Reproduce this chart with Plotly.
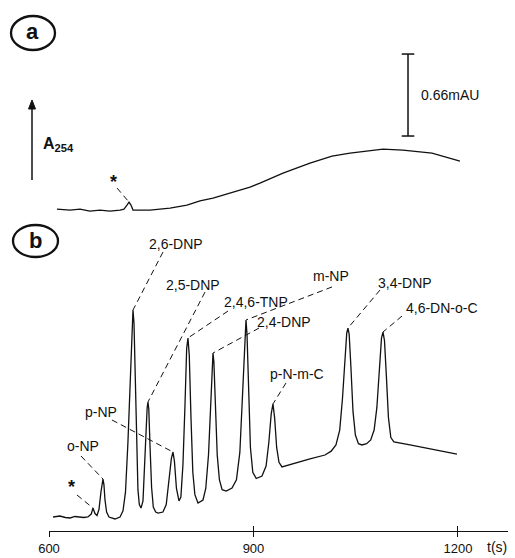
import plotly.graph_objects as go

# Electropherogram (b): nitrophenol standard mixture, A254 in mAU vs migration time (s)
b_time = [606, 616, 624, 631, 638, 645, 651, 657, 662, 664.5, 667.5, 670.4,
          673.3, 676.2, 677.7, 679.2, 680.6, 682.1, 684.5, 688.0, 696.8, 704.2, 708.6,
          712.2, 715.8, 718.8, 721.7, 723.2, 724.7, 726.5, 728.6, 730.5, 732.5, 735.0,
          737.9, 740.0, 742.2, 744.0, 745.2, 746.4, 748.3, 750.5, 753.0, 756.5, 759.9,
          767.2, 772.0, 776.5, 779.5, 781.9, 784.0, 787.0, 790.7, 793.5, 796.5,
          799.5, 802.0, 803.9, 805.8, 808.3, 811.0, 814.0, 818.6, 825.9, 830.0,
          834.0, 837.5, 839.3, 840.6, 841.9, 844.0, 846.8, 850.0, 854.0, 860.0,
          868.5, 875.0, 880.0, 884.5, 887.5, 889.0, 890.5, 892.7, 895.5, 899.0,
          904.0, 912.5, 918.5, 922.5, 926.0, 928.6, 931.0, 934.0, 937.4, 941.8,
          960.9, 982.9, 1004.9, 1014.0, 1021.0, 1026.5, 1030.5, 1034.0, 1036.8,
          1038.6, 1040.4, 1043.0, 1046.0, 1049.5, 1054.0, 1059.2, 1066.0, 1072.0,
          1077.0, 1081.0, 1084.5, 1087.8, 1090.0, 1092.2, 1095.0, 1098.0, 1101.5,
          1106.0, 1129.6, 1158.9, 1198.5]
b_abs = [0.000, 0.008, -0.004, -0.008, 0.004, 0.000, -0.004, 0.000, 0.024, 0.072, 0.028, 0.012,
         0.060, 0.200, 0.280, 0.306, 0.260, 0.140, 0.040, 0.000, -0.016, 0.000, 0.050,
         0.200, 0.600, 1.103, 1.550, 1.666, 1.560, 1.150, 0.560, 0.220, 0.100, 0.072,
         0.130, 0.380, 0.720, 0.880, 0.926, 0.870, 0.560, 0.240, 0.080, 0.040, 0.032,
         0.040, 0.100, 0.300, 0.470, 0.523, 0.450, 0.230, 0.129, 0.160, 0.420,
         0.900, 1.360, 1.441, 1.300, 0.800, 0.360, 0.180, 0.113, 0.137, 0.230,
         0.500, 0.980, 1.260, 1.320, 1.250, 0.930, 0.500, 0.300, 0.220, 0.209,
         0.233, 0.300, 0.520, 1.050, 1.480, 1.586, 1.470, 1.020, 0.560, 0.360,
         0.310, 0.330, 0.410, 0.600, 0.830, 0.910, 0.800, 0.560, 0.440, 0.403,
         0.435, 0.467, 0.499, 0.530, 0.580, 0.700, 0.950, 1.280, 1.480,
         1.521, 1.470, 1.200, 0.850, 0.660, 0.590, 0.580, 0.590, 0.620,
         0.700, 0.880, 1.180, 1.440, 1.489, 1.420, 1.130, 0.800, 0.640,
         0.604, 0.580, 0.547, 0.507]

# Electropherogram (a): blank run
a_time = [611.7, 630.8, 645.5, 660.1, 674.8, 689.5, 704.2, 710.0, 714.4, 717.4,
          720.3, 723.2, 733.5, 748.2, 762.8, 777.5, 802.4, 821.5, 840.6, 869.9,
          894.9, 909.5, 943.3, 982.9, 1015.2, 1041.6, 1066.5, 1090.0, 1119.3,
          1161.9, 1202.9]
a_abs = [0.000, -0.008, 0.000, -0.016, -0.008, -0.016, -0.008, 0.000, 0.032, 0.056,
         0.032, -0.008, -0.008, -0.008, 0.000, 0.008, 0.032, 0.065, 0.089, 0.137,
         0.177, 0.209, 0.290, 0.370, 0.427, 0.451, 0.467, 0.483, 0.475,
         0.451, 0.386]
a_offset = 2.479          # trace (a) is drawn above trace (b)

# Peak identification for (b)
peak_names = ["o-NP", "p-NP", "2,6-DNP", "2,5-DNP", "2,4,6-TNP", "2,4-DNP",
              "m-NP", "p-N-m-C", "3,4-DNP", "4,6-DN-o-C"]
peak_times = [679.2, 781.9, 723.2, 745.2, 803.9, 840.6, 889.0, 928.6, 1038.6, 1090.0]
label_t = [649.9, 676.3, 786.3, 811.2, 903.7, 944.7, 1013.7, 963.8, 1122.3, 1176.5]
label_y = [0.572, 0.845, 2.198, 1.868, 1.731, 1.570, 1.940, 1.151, 1.884, 1.682]
leader_t = [646.9, 692.4, 767.2, 828.9, 862.6, 908.1, 1015.2, 947.7, 1085.6, 1117.9]
leader_y = [0.491, 0.781, 2.133, 1.811, 1.658, 1.521, 1.852, 1.079, 1.827, 1.618]

# System peaks marked with an asterisk: (time, label t, label y, leader start t, y)
star_b = (664.5, 633.7, 0.242, 641.1, 0.177)
star_a = (717.4, 693.9, 2.697, 699.8, 2.648)

# Scale bar
scale_value = 0.66
scale_t = 1126.7
scale_base = 3.067

FONT = "Liberation Sans, Arial, sans-serif"
BLACK = "#111111"
X_RANGE = [600, 1273.4]
Y_RANGE = [-0.1127, 4.162]
ML, MR, MT, MB = 49, 7, 0, 27
W, H = 515, 558


def paper_x(px):
    return (px - ML) / (W - ML - MR)


def paper_y(py):
    return (H - MB - py) / (H - MB - MT)


def apex(t):
    i = min(range(len(b_time)), key=lambda k: abs(b_time[k] - t))
    return b_time[i], b_abs[i]


def text(x, y, s, size=14, ref="data", xanchor="center"):
    r = "x" if ref == "data" else "paper"
    return dict(x=x, y=y, xref=r, yref="y" if ref == "data" else "paper", text=s,
                showarrow=False, xanchor=xanchor, yanchor="middle",
                font=dict(family=FONT, size=size, color=BLACK))


fig = go.Figure()

fig.add_trace(go.Scatter(x=b_time, y=b_abs, mode="lines",
                         line=dict(color=BLACK, width=1.3), hoverinfo="skip"))
fig.add_trace(go.Scatter(x=a_time, y=[v + a_offset for v in a_abs], mode="lines",
                         line=dict(color=BLACK, width=1.3), hoverinfo="skip"))

dash = dict(color=BLACK, width=1, dash="6px,4px")
annotations = []
for name, pt, lt, ly, st, sy in zip(peak_names, peak_times, label_t, label_y, leader_t, leader_y):
    et, ey = apex(pt)
    fig.add_trace(go.Scatter(x=[st, et], y=[sy, ey], mode="lines", line=dash, hoverinfo="skip"))
    annotations.append(text(lt, ly, name))

# asterisk markers
et, ey = apex(star_b[0])
fig.add_trace(go.Scatter(x=[star_b[3], et], y=[star_b[4], ey], mode="lines", line=dash,
                         hoverinfo="skip"))
annotations.append(text(star_b[1], star_b[2], "<b>*</b>", size=18))
ia = min(range(len(a_time)), key=lambda k: abs(a_time[k] - star_a[0]))
fig.add_trace(go.Scatter(x=[star_a[3], a_time[ia]], y=[star_a[4], a_abs[ia] + a_offset],
                         mode="lines", line=dash, hoverinfo="skip", xaxis="x2"))
annotations.append(text(star_a[1], star_a[2], "<b>*</b>", size=18))

# scale bar
fig.add_trace(go.Scatter(x=[scale_t, scale_t], y=[scale_base, scale_base + scale_value],
                         mode="lines+markers",
                         line=dict(color=BLACK, width=1.5),
                         marker=dict(symbol="line-ew", size=9,
                                     line=dict(color=BLACK, width=1.5)),
                         hoverinfo="skip"))
annotations.append(text(scale_t + 16, scale_base + scale_value / 2, f"{scale_value}mAU",
                        xanchor="left"))

shapes = []

# absorbance arrow (shaft + filled head)
ax_px, tail_py, head_py = 32, 180, 100
shapes.append(dict(type="line", xref="paper", yref="paper",
                   x0=paper_x(ax_px), x1=paper_x(ax_px),
                   y0=paper_y(tail_py), y1=paper_y(head_py + 6),
                   line=dict(color=BLACK, width=1.5)))
shapes.append(dict(type="path", xref="paper", yref="paper",
                   path=(f"M {paper_x(ax_px - 3.5)},{paper_y(head_py + 9)} "
                         f"L {paper_x(ax_px)},{paper_y(head_py)} "
                         f"L {paper_x(ax_px + 3.5)},{paper_y(head_py + 9)} Z"),
                   fillcolor=BLACK, line=dict(color=BLACK, width=1)))
annotations.append(text(paper_x(41), paper_y(145), "<b>A<sub>254</sub></b>", size=16,
                        ref="paper", xanchor="left"))

# panel letters
for letter, (x0, x1, y0, y1), (cx, cy) in [
        ("a", (11, 55, 16, 50), (32, 32)),
        ("b", (13, 58, 225, 257), (35, 240))]:
    shapes.append(dict(type="circle", xref="paper", yref="paper",
                       x0=paper_x(x0), x1=paper_x(x1), y0=paper_y(y1), y1=paper_y(y0),
                       line=dict(color=BLACK, width=2.3)))
    annotations.append(text(paper_x(cx), paper_y(cy), f"<b>{letter}</b>", size=22, ref="paper"))

annotations.append(text(paper_x(497), paper_y(547), "t(s)", ref="paper"))

ticks = [600, 900, 1200]
fig.update_layout(
    width=W, height=H,
    margin=dict(l=ML, r=MR, t=MT, b=MB),
    paper_bgcolor="white", plot_bgcolor="white",
    showlegend=False,
    xaxis=dict(range=X_RANGE, tickvals=ticks, ticktext=[str(t) for t in ticks],
               ticks="outside", ticklen=5, tickwidth=1.2, tickcolor=BLACK,
               showline=True, linecolor=BLACK, linewidth=1.2,
               showgrid=False, zeroline=False,
               tickfont=dict(family=FONT, size=13, color=BLACK)),
    xaxis2=dict(range=X_RANGE, overlaying="x", anchor="y", side="bottom", matches="x",
                tickvals=ticks, ticks="inside", ticklen=5, tickwidth=1.2, tickcolor=BLACK,
                showticklabels=False, showline=False, showgrid=False, zeroline=False),
    yaxis=dict(range=Y_RANGE, visible=False),
    annotations=annotations,
    shapes=shapes,
)

fig.write_html("out.html")
